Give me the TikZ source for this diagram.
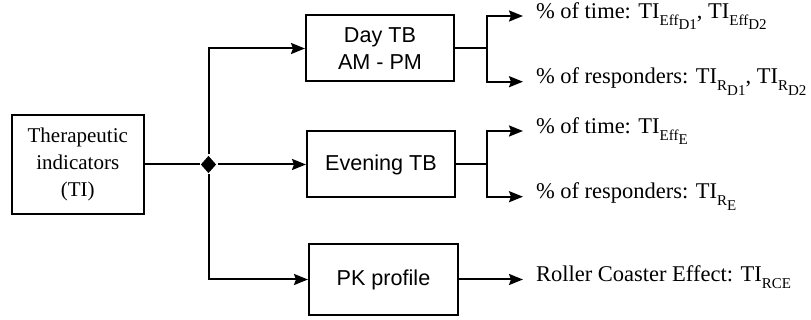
\documentclass[tikz,border=0pt]{standalone}
\usepackage{fontspec}
\setmainfont{Liberation Serif}
\newfontfamily\boxfont{Liberation Sans}
\usetikzlibrary{shapes.geometric,arrows.meta}
\newcommand\lowsub[1]{\raisebox{-0.3em}{\fontsize{15}{15}\selectfont #1}}

\begin{document}
\begin{tikzpicture}[x=1pt,y=-1pt,line width=2pt,
  box/.style={draw,rectangle,inner sep=0pt,align=center,
    font=\boxfont\fontsize{21.6}{26.7}\selectfont},
  arr/.style={-{Stealth[length=14pt,width=11pt,inset=2pt]}},
  lbl/.style={anchor=mid west,inner sep=0pt,font=\fontsize{22.5}{27}\selectfont}]
\useasboundingbox (0,0) rectangle (811,320);
% left block and split point
\node[box,minimum width=132pt,minimum height=99pt,font=\fontsize{21}{27}\selectfont] (ti) at (77.8,164.5) {Therapeutic\\indicators\\(TI)};
\node[diamond,fill=black,inner sep=0pt,minimum width=16pt,minimum height=18pt] (split) at (208.5,164.5) {};
% middle blocks
\node[box,minimum width=148pt,minimum height=66pt] (day) at (380,48.5) {Day TB\\AM - PM};
\node[box,minimum width=148pt,minimum height=66pt] (eve) at (381,164.5) {Evening TB};
\node[box,minimum width=149pt,minimum height=71pt] (pk) at (383.5,279.5) {PK profile};
% forks
\coordinate (dayfork) at (487,48.5);
\coordinate (evefork) at (487,164.5);
% right labels
\node[lbl] (dtime) at (535,16) {\% of time: TI\lowsub{Eff\lowsub{D1}}, TI\lowsub{Eff\lowsub{D2}}};
\node[lbl] (dresp) at (535,81.7) {\% of responders: TI\lowsub{R\lowsub{D1}}, TI\lowsub{R\lowsub{D2}}};
\node[lbl] (etime) at (535,131) {\% of time: TI\lowsub{Eff\lowsub{E}}};
\node[lbl] (eresp) at (535,196.7) {\% of responders: TI\lowsub{R\lowsub{E}}};
\node[lbl] (roll) at (535,279.5) {Roller Coaster Effect: TI\lowsub{RCE}};
% connectors
\draw (ti.east) -- (split);
\draw[arr] (split) |- (day.west);
\draw[arr] (split) -- (eve.west);
\draw[arr] (split) |- (pk.west);
\draw (day.east) -- (dayfork);
\draw[arr,shorten >=12pt] (dayfork) |- (dtime.mid west);
\draw[arr,shorten >=12pt] (dayfork) |- (dresp.mid west);
\draw (eve.east) -- (evefork);
\draw[arr,shorten >=12pt] (evefork) |- (etime.mid west);
\draw[arr,shorten >=12pt] (evefork) |- (eresp.mid west);
\draw[arr,shorten >=12pt] (pk.east) -- (roll.mid west);
\end{tikzpicture}
\end{document}
